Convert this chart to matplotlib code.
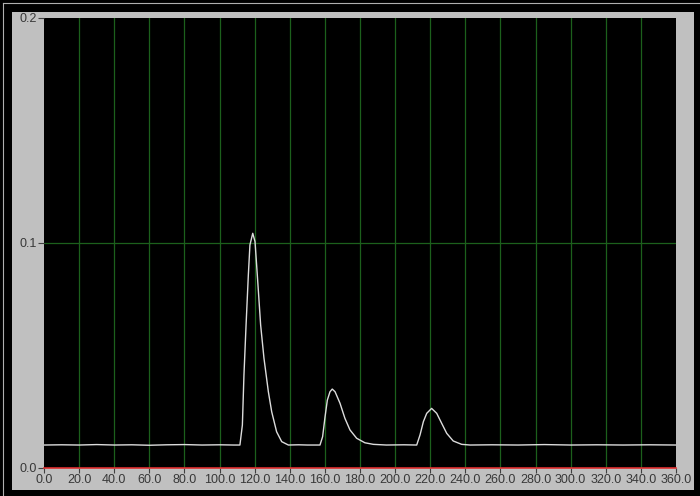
import matplotlib
matplotlib.use('Agg')
import matplotlib.pyplot as plt
from matplotlib.patches import Rectangle
from matplotlib.lines import Line2D

# values
time = [0.0, 10.0, 20.0, 30.0, 40.0, 50.0, 60.0, 70.0, 80.0, 90.0, 100.0, 108.0,
        111.6, 113.0, 113.9, 115.1, 116.4, 117.3, 118.9, 120.2, 121.5, 123.4,
        125.3, 127.8, 129.7, 132.5, 135.4, 139.2, 145.0, 150.0, 157.2,
        158.7, 160.1, 161.4, 162.9, 164.2, 165.8, 168.6, 171.4, 174.3, 178.1,
        182.8, 187.6, 195.0, 205.0, 212.3,
        214.2, 216.1, 218.0, 220.8, 223.7, 226.5, 229.4, 233.1, 237.9, 242.7,
        255.0, 270.0, 285.0, 300.0, 315.0, 330.0, 345.0, 360.0]
signal = [0.0100, 0.0101, 0.0100, 0.0102, 0.0100, 0.0101, 0.0099, 0.0101, 0.0102, 0.0100, 0.0101, 0.0100,
          0.0100, 0.0189, 0.0412, 0.0634, 0.0857, 0.0990, 0.1042, 0.1005, 0.0857, 0.0634,
          0.0486, 0.0337, 0.0248, 0.0159, 0.0115, 0.0100, 0.0101, 0.0100, 0.0100,
          0.0137, 0.0226, 0.0300, 0.0337, 0.0349, 0.0337, 0.0286, 0.0219, 0.0167, 0.0130,
          0.0110, 0.0103, 0.0100, 0.0101, 0.0100,
          0.0145, 0.0204, 0.0241, 0.0263, 0.0241, 0.0197, 0.0152, 0.0118, 0.0103, 0.0100,
          0.0101, 0.0100, 0.0102, 0.0100, 0.0101, 0.0100, 0.0101, 0.0100]

x_ticks = list(range(0, 361, 20))
x_labels = [f"{v:.1f}" for v in x_ticks]
y_ticks = [0.0, 0.1, 0.2]
y_labels = ["0.0", "0.1", "0.2"]

plt.rcParams['font.family'] = ['Liberation Sans', 'DejaVu Sans']

fig = plt.figure(figsize=(7.0, 4.96), dpi=100, facecolor='black')

# grey panel behind the graph
fig.patches.append(Rectangle((12 / 700, 6 / 496), 682 / 700, 478 / 496,
                             transform=fig.transFigure, facecolor='#c0c0c0',
                             edgecolor='none', zorder=-10))
# thin light frame line left/top
fig.lines.append(Line2D([2.5 / 700, 2.5 / 700], [0, 493.5 / 496], transform=fig.transFigure,
                        color='#b0b0b0', lw=0.8, zorder=-10))
fig.lines.append(Line2D([2.5 / 700, 1], [493.5 / 496, 493.5 / 496], transform=fig.transFigure,
                        color='#b0b0b0', lw=0.8, zorder=-10))

ax = fig.add_axes([44 / 700, 28.5 / 496, 632 / 700, 449.5 / 496])
ax.set_zorder(5)
ax.set_facecolor('black')

# grid only inside the plot area
for xv in x_ticks[1:-1]:
    ax.axvline(xv, color='#1c601c', lw=0.9, zorder=1)
for yv in y_ticks[1:-1]:
    ax.axhline(yv, color='#1c601c', lw=0.9, zorder=1)

ax.plot(time, signal, color='#dcdcdc', lw=1.0, zorder=3)

ax.set_xlim(0, 360)
ax.set_ylim(0, 0.2)
ax.set_xticks(x_ticks)
ax.set_xticklabels(x_labels)
ax.set_yticks(y_ticks)
ax.set_yticklabels(y_labels)

for s in ['top', 'left', 'right']:
    ax.spines[s].set_visible(False)
ax.spines['bottom'].set_color('#e03030')
ax.spines['bottom'].set_linewidth(1.2)
ax.spines['bottom'].set_zorder(4)

ax.tick_params(axis='x', colors='#404040', length=3.5, width=0.8, pad=1.5,
               labelsize=9, labelcolor='#383838')
ax.tick_params(axis='y', colors='#404040', length=4, width=0.8, pad=1,
               labelsize=9, labelcolor='#383838')

fig.savefig('out.png', dpi=100, facecolor='black')
